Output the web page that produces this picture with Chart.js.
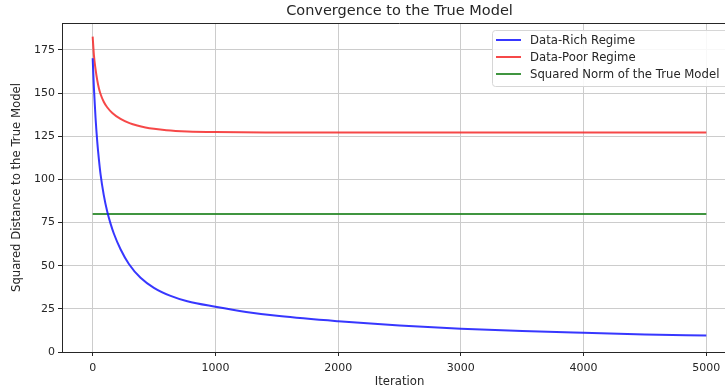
<!DOCTYPE html>
<html>
<head>
<meta charset="utf-8">
<script src="https://cdn.jsdelivr.net/npm/chart.js@4"></script>
<style>
html,body{margin:0;padding:0;background:#fff;overflow:hidden;width:725px;height:392px;}
#wrap{position:absolute;left:0;top:0;width:740px;height:392px;}
</style>
</head>
<body>
<div id="wrap"><canvas id="c" width="740" height="392"></canvas></div>
<script>
const chartTitle = "Convergence to the True Model";
const xTitle = "Iteration";
const yTitle = "Squared Distance to the True Model";
const xTickValues = [0, 1000, 2000, 3000, 4000, 5000];
const yTickValues = [0, 25, 50, 75, 100, 125, 150, 175];

const richIter = [0, 10, 23, 37, 50, 64, 90, 118, 145, 173, 227, 295, 390, 499, 635, 771, 1000, 1250, 1521, 2000, 2500, 3000, 3500, 4000, 4500, 5000];
const richVals = [170.2, 153, 136, 122, 112, 103, 91, 81.5, 74.5, 68.5, 59.5, 51, 43, 37.2, 32.5, 29.4, 26.2, 23.2, 20.8, 17.8, 15.3, 13.4, 12.1, 11.1, 10.2, 9.5];

const poorIter = [0, 10, 23, 37, 50, 64, 90, 118, 160, 227, 300, 363, 430, 499, 600, 771, 1000, 1500, 2000, 3000, 4000, 5000];
const poorVals = [182.7, 172, 164, 157.5, 153, 149.5, 145, 141.8, 138.5, 135, 132.6, 131.2, 130.1, 129.3, 128.5, 127.8, 127.4, 127.15, 127.1, 127.1, 127.1, 127.1];

const normIter = [0, 5000];
const normVals = [80, 80];

const seriesNames = ["Data-Rich Regime", "Data-Poor Regime", "Squared Norm of the True Model"];

const toPts = (xs, ys) => xs.map((x, i) => ({x: x, y: ys[i]}));
const FONT = "'DejaVu Sans', sans-serif";
const TXT = "#262626";

const overlay = {
  id: 'overlay',
  afterDraw(chart) {
    const ctx = chart.ctx, a = chart.chartArea;
    ctx.save();
    ctx.strokeStyle = "#262626";
    ctx.lineWidth = 1;
    ctx.beginPath();
    ctx.moveTo(a.left, a.top + 0.5);
    ctx.lineTo(a.right, a.top + 0.5);
    ctx.stroke();
    ctx.fillStyle = TXT;
    ctx.font = "14.5px " + FONT;
    ctx.textAlign = "center";
    ctx.textBaseline = "middle";
    ctx.fillText(chartTitle, (a.left + a.right) / 2, 11);
    const lx = 492.5, ly = 30.5, lw = 260, lh = 56;
    ctx.fillStyle = "rgba(255,255,255,0.85)";
    ctx.strokeStyle = "#d6d6d6";
    ctx.lineWidth = 1;
    ctx.beginPath();
    ctx.roundRect(lx, ly, lw, lh, 3);
    ctx.fill();
    ctx.stroke();
    ctx.font = "11.7px " + FONT;
    ctx.textAlign = "left";
    ctx.textBaseline = "middle";
    const ys = [40, 57, 74];
    chart.data.datasets.forEach((ds, i) => {
      ctx.strokeStyle = ds.borderColor;
      ctx.lineWidth = 2;
      ctx.beginPath();
      ctx.moveTo(496, ys[i]);
      ctx.lineTo(521, ys[i]);
      ctx.stroke();
      ctx.fillStyle = TXT;
      ctx.fillText(ds.label, 530, ys[i] + 0.5);
    });
    ctx.restore();
  }
};

new Chart(document.getElementById('c'), {
  type: 'line',
  data: {
    datasets: [
      {label: seriesNames[0], data: toPts(richIter, richVals), borderColor: 'rgba(20,20,255,0.85)', borderWidth: 2, pointRadius: 0, fill: false, cubicInterpolationMode: 'monotone'},
      {label: seriesNames[1], data: toPts(poorIter, poorVals), borderColor: 'rgba(245,40,40,0.85)', borderWidth: 2, pointRadius: 0, fill: false, cubicInterpolationMode: 'monotone'},
      {label: seriesNames[2], data: toPts(normIter, normVals), borderColor: 'rgba(30,130,30,0.85)', borderWidth: 2, pointRadius: 0, fill: false}
    ]
  },
  options: {
    responsive: false,
    animation: false,
    layout: {padding: {top: 23, left: 0, right: 3, bottom: 0}},
    plugins: {legend: {display: false}, title: {display: false}, tooltip: {enabled: false}},
    scales: {
      x: {
        type: 'linear', min: -250, max: 5250,
        afterBuildTicks: s => { s.ticks = xTickValues.map(v => ({value: v})); },
        afterFit: s => { s.height = 40; },
        grid: {color: '#cccccc', lineWidth: 1, tickLength: 4, tickColor: '#262626', drawOnChartArea: true},
        border: {color: '#262626', width: 1},
        ticks: {color: TXT, font: {family: FONT, size: 11}, padding: 6, maxRotation: 0, callback: v => String(v)},
        title: {display: true, text: xTitle, color: TXT, font: {family: FONT, size: 11.7}, padding: {top: 1, bottom: 3}}
      },
      y: {
        type: 'linear', min: 0, max: 190.6,
        afterBuildTicks: s => { s.ticks = yTickValues.map(v => ({value: v})); },
        afterFit: s => { s.width = 62; },
        grid: {color: '#cccccc', lineWidth: 1, tickLength: 4, tickColor: '#262626'},
        border: {color: '#262626', width: 1},
        ticks: {color: TXT, font: {family: FONT, size: 11}, padding: 3, callback: v => String(v)},
        title: {display: true, text: yTitle, color: TXT, font: {family: FONT, size: 11.7}, padding: {top: 10, bottom: 4}}
      }
    }
  },
  plugins: [overlay]
});
</script>
</body>
</html>
